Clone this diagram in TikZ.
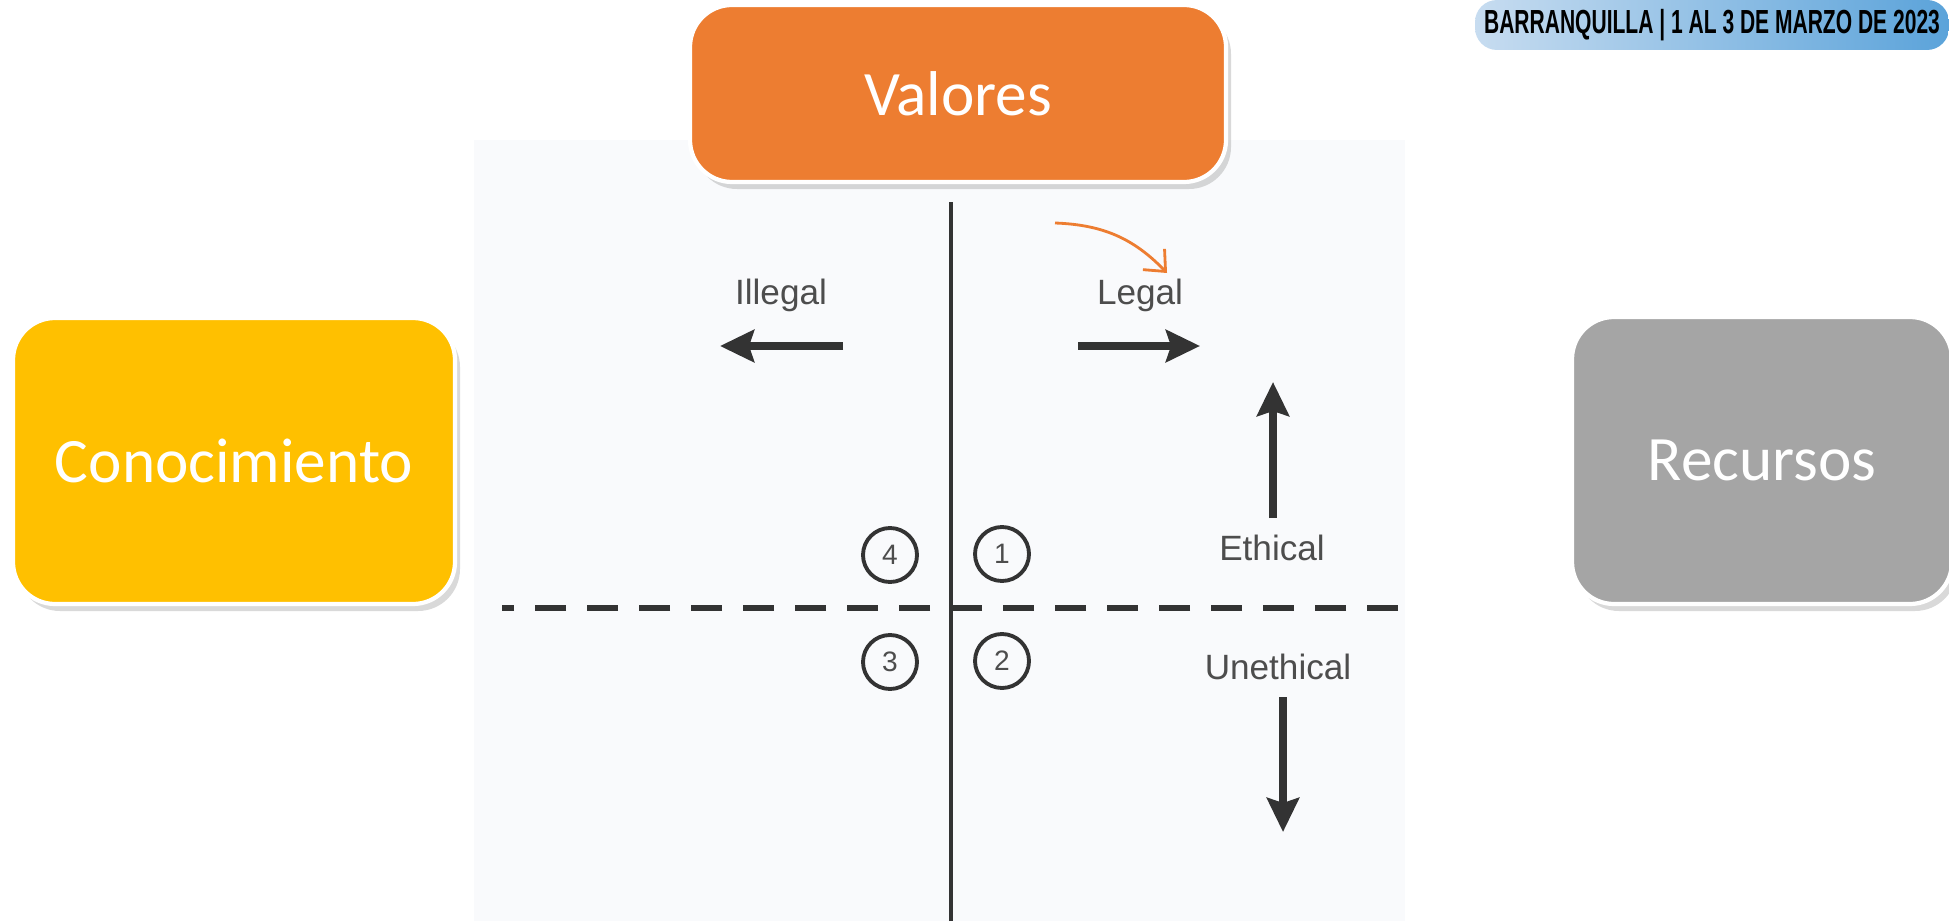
\documentclass[tikz,border=0pt]{standalone}
\usepackage{fontspec}
\usepackage{graphicx}
\setmainfont{Carlito}
\newfontfamily\scanfont{Liberation Sans}
\usetikzlibrary{arrows.meta,shadows}

\definecolor{valcol}{HTML}{ED7D31}
\definecolor{concol}{HTML}{FFC000}
\definecolor{reccol}{HTML}{A5A5A5}
\definecolor{figbg}{HTML}{F9FAFC}
\definecolor{ink}{HTML}{333333}
\definecolor{scantext}{HTML}{4D4D4D}
\definecolor{bannerA}{HTML}{C7DCF0}
\definecolor{bannerM}{HTML}{ACCDEB}
\definecolor{bannerB}{HTML}{5BA3DA}

\begin{document}
\begin{tikzpicture}
\tikzstyle{card} = [rounded corners=0.42cm, draw=white, line width=1.2pt, text=white, font=\fontsize{18}{22}\selectfont, drop shadow={shadow xshift=0.05cm, shadow yshift=-0.07cm, opacity=0.3}]
\tikzstyle{lbl} = [font=\scanfont\fontsize{10}{12}\selectfont, text=scantext, inner sep=0pt]
\tikzstyle{marca} = [circle, draw=ink, line width=1.1pt, minimum size=0.54cm, inner sep=0pt, font=\scanfont\fontsize{8}{9}\selectfont, text=scantext]
\tikzstyle{flecha} = [draw=ink, line width=2.4pt, -{Stealth[length=0.34cm,width=0.32cm,inset=0.05cm]}]
\tikzstyle{fecha} = [rounded corners=0.22cm, left color=bannerA, middle color=bannerM, right color=bannerB, minimum width=4.74cm, minimum height=0.5cm, inner sep=0pt, font=\scanfont\bfseries\fontsize{9.5}{11}\selectfont]

\useasboundingbox (0,0) rectangle (19.49,-9.21);

% scanned figure
\fill[figbg] (4.74,-1.40) rectangle (14.05,-9.21);

\coordinate (vtop) at (9.51,-2.02);
\coordinate (vbot) at (9.51,-9.21)
	edge[ink, line width=1.4pt] (vtop);
\coordinate (hl) at (5.02,-6.08);
\coordinate (hr) at (13.98,-6.08)
	edge[ink, line width=1.7pt, dash pattern=on 0.31cm off 0.21cm] (hl);

\node[marca] (q4) at (8.90,-5.55) {4};
\node[marca] (q1) at (10.02,-5.54) {1};
\node[marca] (q3) at (8.90,-6.62) {3};
\node[marca] (q2) at (10.02,-6.61) {2};

\node[lbl] (illegal) at (7.81,-2.95) {Illegal};
\node[lbl] (legal) at (11.40,-2.95) {Legal};
\node[lbl] (ethical) at (12.72,-5.48) {Ethical};
\node[lbl] (unethical) at (12.78,-6.67) {Unethical};

\coordinate (il0) at (8.43,-3.46);
\coordinate (il1) at (7.20,-3.46);
\coordinate (le0) at (10.78,-3.46);
\coordinate (le1) at (12.00,-3.46);
\coordinate (et0) at (12.73,-5.18);
\coordinate (et1) at (12.73,-3.82);
\coordinate (un0) at (12.83,-6.97);
\coordinate (un1) at (12.83,-8.32);
\draw[flecha] (il0) -- (il1);
\draw[flecha] (le0) -- (le1);
\draw[flecha] (et0) -- (et1);
\draw[flecha] (un0) -- (un1);

% highlight
\coordinate (pa) at (10.55,-2.23);
\coordinate (pb) at (11.67,-2.73);
\draw[valcol, line width=0.8pt, -{Straight Barb[length=0.17cm,width=0.3cm]}] (pa) to[bend left=22] (pb);

% cards
\node[card, fill=valcol, minimum width=5.36cm, minimum height=1.77cm] (valores) at (9.58,-0.935) {Valores};
\node[card, fill=concol, minimum width=4.42cm, minimum height=2.86cm] (conoc) at (2.34,-4.61) {Conocimiento};
\node[card, fill=reccol, minimum width=3.80cm, minimum height=2.87cm] (recursos) at (17.62,-4.605) {Recursos};

\node[fecha] (banner) at (17.12,-0.25) {\scalebox{0.63}[1]{BARRANQUILLA | 1 AL 3 DE MARZO DE 2023}};
\end{tikzpicture}
\end{document}
